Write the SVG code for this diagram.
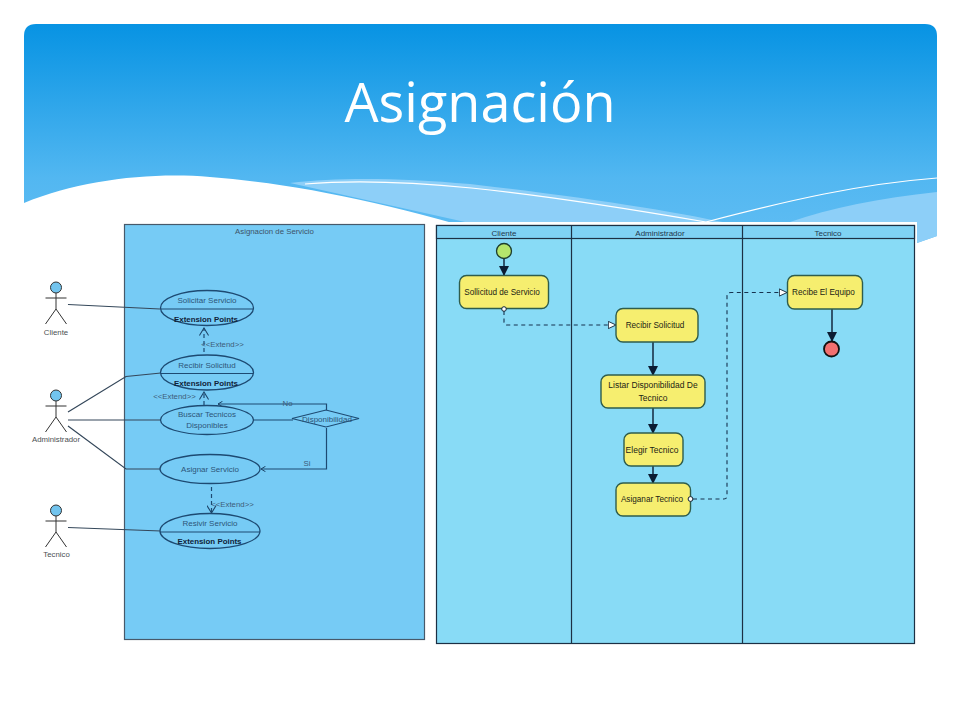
<svg xmlns="http://www.w3.org/2000/svg" width="960" height="720" viewBox="0 0 960 720">
<defs>
<linearGradient id="hdr" x1="0" y1="0" x2="0" y2="1"><stop offset="0" stop-color="#0793e3"/><stop offset="0.7" stop-color="#52b7f1"/><stop offset="1" stop-color="#60bdf3"/></linearGradient>
<marker id="solid" viewBox="0 0 10 10" refX="9" refY="5" markerWidth="10" markerHeight="10" markerUnits="userSpaceOnUse" orient="auto"><path d="M0 0L10 5L0 10Z" fill="#0b1c33"/></marker>
<marker id="hollow" viewBox="0 0 10 10" refX="9" refY="5" markerWidth="9" markerHeight="9" markerUnits="userSpaceOnUse" orient="auto"><path d="M0.500 1L9 5L0.500 9Z" fill="#fff" stroke="#123" stroke-width="1"/></marker>
<marker id="open" viewBox="0 0 10 12" refX="9" refY="6" markerWidth="9" markerHeight="10" markerUnits="userSpaceOnUse" orient="auto"><path d="M0 0.500L9 6L0 11.500" fill="none" stroke="#1c4468" stroke-width="1.300"/></marker>
<marker id="opensm" viewBox="0 0 10 12" refX="9" refY="6" markerWidth="5" markerHeight="6" markerUnits="userSpaceOnUse" orient="auto"><path d="M0 0.500L9 6L0 11.500" fill="none" stroke="#1c4468" stroke-width="2"/></marker>
</defs>
<style>
text{font-family:"Liberation Sans",Arial,sans-serif}
.uc{font-size:8px;fill:#2d5578;text-anchor:middle}
.ep{font-size:7.900px;font-weight:bold;fill:#102238;text-anchor:middle}
.act{font-size:8.200px;fill:#1c2415;text-anchor:middle}
.lane{font-size:8px;fill:#23384d;text-anchor:middle}
.oval{fill:#76cbf5;stroke:#1d4a72;stroke-width:1.300}
.line{fill:none;stroke:#1d4a72;stroke-width:1.200}
.assoc{fill:none;stroke:#34475a;stroke-width:1.200}
.dash{fill:none;stroke:#1d4a72;stroke-width:1.200;stroke-dasharray:4 3}
.node{fill:#f6ee6f;stroke:#2f5d4c;stroke-width:1.400}
.flow{fill:none;stroke:#0b1c33;stroke-width:1.400;marker-end:url(#solid)}
.obj{fill:none;stroke:#16324f;stroke-width:1.100;stroke-dasharray:4 3.500;marker-end:url(#hollow)}
.actor{fill:none;stroke:#333;stroke-width:1}
.alabel{font-size:7.800px;fill:#4b4f52;text-anchor:middle}
.elabel{font-size:7.800px;fill:#3d5b78;text-anchor:middle}
</style>
<rect width="960" height="720" fill="#fff"/>
<g id="background">
<path d="M24 36Q24 24 36 24H925Q937 24 937 36V236L917 243H24Z" fill="url(#hdr)"/>
<path d="M290 183C340 177 400 178 470 184C590 198 680 212 740 226L790 222C830 208 880 198 937 192V236L917 243H560Z" fill="#8dcff8"/>
<path d="M24 203C80 180 150 172 210 177C300 184 400 205 520 243H24Z" fill="#fff"/>
<path d="M305 184C400 176 520 190 706 222C790 200 860 184 937 178" fill="none" stroke="#fff" stroke-width="1.200"/>
<text x="480" y="122" text-anchor="middle" font-size="54" fill="#fff" style="font-family:'Open Sans','Noto Sans',sans-serif">Asignación</text>
</g>
<rect x="434" y="222" width="483" height="424" fill="#fff"/>
<g id="system">
<rect x="124.500" y="224.500" width="300" height="415" fill="#76cbf5" stroke="#47596a" stroke-width="1.200"/>
<text x="274.500" y="234" text-anchor="middle" font-size="7.800" fill="#3d5368">Asignacion de Servicio</text>
</g>
<g id="connectors-usecase">
<path class="assoc" d="M68 304.500L160 309"/>
<path class="assoc" d="M68 412L126 376.500L161 373"/>
<path class="assoc" d="M68 420H161"/>
<path class="assoc" d="M68 426L126 469H161"/>
<path class="assoc" d="M68 527.500L161 531"/>
<path class="dash" d="M204 352V328" marker-end="url(#open)"/>
<path class="dash" d="M204 405V392" marker-end="url(#open)"/>
<path class="dash" d="M211.500 487V513" marker-end="url(#open)"/>
<path class="line" d="M254 420H293"/>
<path class="line" d="M326.500 410V404H218" marker-end="url(#opensm)"/>
<path class="line" d="M326.500 428V469H261" marker-end="url(#opensm)"/>
<text class="elabel" x="287.500" y="406">No</text>
<text class="elabel" x="307" y="466">Si</text>
<text class="elabel" x="222.500" y="347">&lt;&lt;Extend&gt;&gt;</text>
<text class="elabel" x="174.500" y="399">&lt;&lt;Extend&gt;&gt;</text>
<text class="elabel" x="232.500" y="507">&lt;&lt;Extend&gt;&gt;</text>
</g>
<g id="actor-cliente">
<circle cx="56" cy="287.500" r="5.500" fill="#72c4ee" stroke="#333"/>
<path class="actor" d="M56 293V309M45.500 298H66.500M56 309L45.500 324M56 309L66.500 324"/>
<text class="alabel" x="56" y="334.500">Cliente</text>
</g>
<g id="actor-administrador">
<circle cx="56" cy="395.500" r="5.500" fill="#72c4ee" stroke="#333"/>
<path class="actor" d="M56 401V417M45.500 406H66.500M56 417L45.500 432M56 417L66.500 432"/>
<text class="alabel" x="56" y="442">Administrador</text>
</g>
<g id="actor-tecnico">
<circle cx="56" cy="510.500" r="5.500" fill="#72c4ee" stroke="#333"/>
<path class="actor" d="M56 516V532M45.500 521H66.500M56 532L45.500 547M56 532L66.500 547"/>
<text class="alabel" x="56.500" y="557">Tecnico</text>
</g>
<g id="uc-solicitar">
<ellipse class="oval" cx="207" cy="308" rx="46.500" ry="17.500"/>
<path class="line" d="M160.500 309H253.500"/>
<text class="uc" x="207" y="303">Solicitar Servicio</text>
<text class="ep" x="206" y="321.500">Extension Points</text>
</g>
<g id="uc-recibir">
<ellipse class="oval" cx="207" cy="372.500" rx="46.500" ry="17.500"/>
<path class="line" d="M160.500 373.500H253.500"/>
<text class="uc" x="207" y="367.500">Recibir Solicitud</text>
<text class="ep" x="206" y="386">Extension Points</text>
</g>
<g id="uc-buscar">
<ellipse class="oval" cx="207" cy="420" rx="46.500" ry="14.500"/>
<text class="uc" x="207" y="416.500">Buscar Tecnicos</text>
<text class="uc" x="207" y="427.500">Disponibles</text>
</g>
<g id="uc-disponibilidad">
<path d="M292 418.500L326 410L359 418.500L326 427Z" fill="#76cbf5" stroke="#1d4a72" stroke-width="1.200"/>
<text class="uc" x="327" y="421.500">Disponibilidad</text>
</g>
<g id="uc-asignar">
<ellipse class="oval" cx="210" cy="469" rx="50" ry="14.500"/>
<text class="uc" x="210" y="472">Asignar Servicio</text>
</g>
<g id="uc-resivir">
<ellipse class="oval" cx="210" cy="531" rx="50" ry="17.500"/>
<path class="line" d="M160 532H260"/>
<text class="uc" x="210" y="526">Resivir Servicio</text>
<text class="ep" x="209.500" y="544">Extension Points</text>
</g>
<g id="swimlanes">
<rect x="436.500" y="225.500" width="478" height="418" fill="#88dbf6" stroke="#1c3044" stroke-width="1.200"/>
<rect x="436.500" y="225.500" width="478" height="13" fill="#7fd2f4" stroke="#1c3044" stroke-width="1.200"/>
<path d="M571.500 225.500V643.500M742.500 225.500V643.500" stroke="#1c3044" stroke-width="1.200" fill="none"/>
<text class="lane" x="504" y="236">Cliente</text>
<text class="lane" x="660" y="236">Administrador</text>
<text class="lane" x="828" y="236">Tecnico</text>
</g>
<g id="connectors-activity">
<path class="flow" d="M504 259V275"/>
<path class="obj" d="M504 311V322Q504 325 507 325H616"/>
<path class="flow" d="M653 342V375"/>
<path class="flow" d="M653 408V433"/>
<path class="flow" d="M653 466V483"/>
<path class="obj" d="M693 499H724Q727 499 727 496V296Q727 292.500 731 292.500H787"/>
<path class="flow" d="M832 309V341"/>
</g>
<g id="start"><circle cx="504" cy="251" r="7.500" fill="#b4e66c" stroke="#1d3d2d" stroke-width="1.300"/></g>
<g id="a-solicitud">
<rect class="node" x="459.500" y="275.500" width="89" height="33" rx="7"/>
<text class="act" x="502" y="295">Sollicitud de Servicio</text>
<circle cx="504" cy="309" r="2.300" fill="#fff" stroke="#123"/>
</g>
<g id="a-recibir">
<rect class="node" x="616" y="308.500" width="82" height="33.500" rx="7"/>
<text class="act" x="655" y="328">Recibir Solicitud</text>
</g>
<g id="a-listar">
<rect class="node" x="601" y="375" width="104" height="33" rx="7"/>
<text class="act" x="653" y="388" style="font-size:8.500px">Listar Disponibilidad De</text>
<text class="act" x="653" y="401" style="font-size:8.500px">Tecnico</text>
</g>
<g id="a-elegir">
<rect class="node" x="624" y="433" width="59" height="33" rx="7"/>
<text class="act" x="652" y="452.500" style="font-size:8.500px">Elegir Tecnico</text>
</g>
<g id="a-asignar">
<rect class="node" x="616" y="483" width="74.500" height="33" rx="7"/>
<text class="act" x="652" y="502">Asiganar Tecnico</text>
<circle cx="690.500" cy="499" r="2.400" fill="#fff" stroke="#123"/>
</g>
<g id="a-recibe">
<rect class="node" x="787.500" y="275.500" width="75" height="33.500" rx="7"/>
<text class="act" x="823.500" y="295">Recibe El Equipo</text>
</g>
<g id="end"><circle cx="831.500" cy="349" r="7.500" fill="#f27070" stroke="#111" stroke-width="1.800"/></g>
</svg>
